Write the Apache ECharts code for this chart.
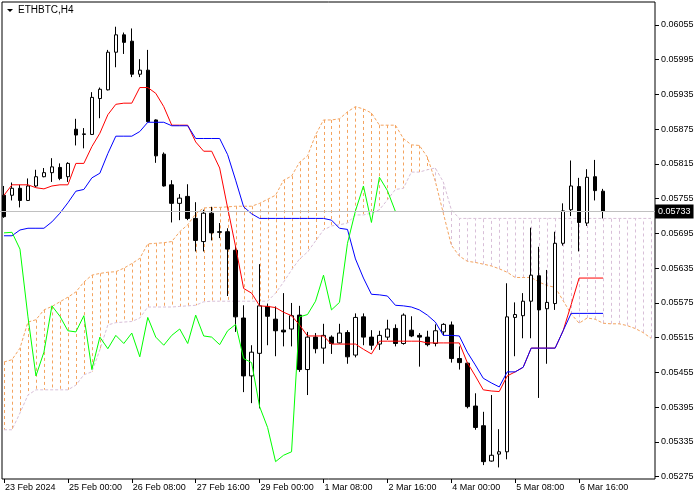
<!DOCTYPE html>
<html><head><meta charset="utf-8">
<script src="https://cdn.jsdelivr.net/npm/echarts@6/dist/echarts.min.js"></script>
<style>html,body{margin:0;padding:0;background:#fff}#c{width:700px;height:500px}</style>
</head><body><div id="c"></div>
<script>
const tickLabels = ["23 Feb 2024","25 Feb 00:00","26 Feb 08:00","27 Feb 16:00","29 Feb 00:00","1 Mar 08:00","2 Mar 16:00","4 Mar 00:00","5 Mar 08:00","6 Mar 16:00"];
const yTicks = [0.05275,0.05335,0.05395,0.05455,0.05515,0.05575,0.05635,0.05695,0.05755,0.05815,0.05875,0.05935,0.05995,0.06055];
const lastPrice = 0.05733;
// [open, close, low, high]
const candles = [
[0.05761,0.05724,0.05722,0.05777],[0.05761,0.05773,0.05752,0.05783],[0.05773,0.05752,0.05740,0.05779],[0.05752,0.05777,0.05751,0.05790],
[0.05777,0.05793,0.05775,0.05805],[0.05793,0.05800,0.05792,0.05808],[0.05800,0.05810,0.05784,0.05825],[0.05809,0.05790,0.05787,0.05816],
[0.05793,0.05816,0.05784,0.05818],[0.05875,0.05865,0.05847,0.05893],[0.05866,0.05867,0.05842,0.05877],[0.05866,0.05930,0.05865,0.05939],
[0.05928,0.05944,0.05894,0.05947],[0.05943,0.06008,0.05942,0.06012],[0.06008,0.06038,0.05982,0.06052],[0.06038,0.06025,0.06005,0.06042],
[0.06027,0.05970,0.05965,0.06049],[0.05970,0.05977,0.05965,0.05996],[0.05977,0.05888,0.05887,0.06012],[0.05891,0.05829,0.05817,0.05892],
[0.05832,0.05777,0.05776,0.05835],[0.05779,0.05747,0.05714,0.05787],[0.05747,0.05756,0.05718,0.05763],[0.05759,0.05721,0.05718,0.05780],
[0.05721,0.05683,0.05664,0.05749],[0.05681,0.05730,0.05664,0.05736],[0.05730,0.05696,0.05683,0.05741],[0.05698,0.05697,0.05687,0.05713],
[0.05698,0.05668,0.05587,0.05704],[0.05666,0.05551,0.05525,0.05673],[0.05549,0.05449,0.05421,0.05571],[0.05449,0.05490,0.05402,0.05502],
[0.05488,0.05570,0.05393,0.05642],[0.05569,0.05552,0.05502,0.05574],[0.05547,0.05527,0.05483,0.05569],[0.05528,0.05525,0.05500,0.05592],
[0.05530,0.05553,0.05500,0.05575],[0.05554,0.05460,0.05456,0.05570],[0.05460,0.05516,0.05416,0.05525],[0.05516,0.05496,0.05488,0.05523],
[0.05497,0.05519,0.05470,0.05539],[0.05516,0.05505,0.05487,0.05519],[0.05506,0.05523,0.05505,0.05539],[0.05524,0.05482,0.05470,0.05528],
[0.05485,0.05550,0.05481,0.05557],[0.05551,0.05516,0.05502,0.05557],[0.05516,0.05502,0.05494,0.05528],[0.05504,0.05519,0.05494,0.05527],
[0.05516,0.05530,0.05511,0.05546],[0.05531,0.05505,0.05500,0.05538],[0.05505,0.05554,0.05503,0.05557],[0.05528,0.05518,0.05516,0.05552],
[0.05519,0.05516,0.05465,0.05523],[0.05516,0.05503,0.05500,0.05527],[0.05505,0.05527,0.05500,0.05538],[0.05525,0.05538,0.05519,0.05540],
[0.05537,0.05479,0.05472,0.05543],[0.05479,0.05472,0.05460,0.05500],[0.05471,0.05396,0.05393,0.05472],[0.05397,0.05360,0.05356,0.05419],
[0.05363,0.05301,0.05295,0.05387],[0.05302,0.05312,0.05301,0.05416],[0.05314,0.05318,0.05291,0.05357],[0.05318,0.05551,0.05305,0.05609],
[0.05550,0.05555,0.05483,0.05576],[0.05553,0.05578,0.05514,0.05592],[0.05578,0.05623,0.05514,0.05705],[0.05622,0.05563,0.05411,0.05672],
[0.05565,0.05576,0.05470,0.05632],[0.05574,0.05678,0.05563,0.05698],[0.05678,0.05734,0.05674,0.05747],[0.05736,0.05777,0.05725,0.05821],
[0.05776,0.05714,0.05664,0.05791],[0.05713,0.05792,0.05708,0.05806],[0.05793,0.05769,0.05752,0.05822],[0.05768,0.05733,0.05721,0.05772]
];
const tenkan = [0.05761,0.05779,0.05779,0.05779,0.05774,0.05772,0.05777,0.05779,0.05779,0.05816,
0.05816,0.05845,0.05868,0.05900,0.05918,0.05920,0.05920,0.05947,0.05947,0.05937,
0.05914,0.05882,0.05882,0.05882,0.05853,0.05837,0.05837,0.05808,0.05739,0.05672,
0.05600,0.05592,0.05570,0.05569,0.05567,0.05559,0.05553,0.05537,0.05518,0.05518,
0.05518,0.05504,0.05504,0.05504,0.05504,0.05495,0.05487,0.05509,0.05509,0.05509,
0.05509,0.05509,0.05509,0.05506,0.05506,0.05506,0.05506,0.05506,0.05472,0.05449,
0.05425,0.05423,0.05422,0.05449,0.05456,0.05464,0.05497,0.05497,0.05497,0.05497,
0.05527,0.05572,0.05618,0.05618,0.05618,0.05618];
const kijun = [0.05691,0.05691,0.05701,0.05704,0.05704,0.05704,0.05715,0.05730,0.05748,0.05768,
0.05771,0.05791,0.05799,0.05833,0.05863,0.05863,0.05863,0.05871,0.05887,0.05887,
0.05887,0.05881,0.05881,0.05881,0.05859,0.05859,0.05859,0.05859,0.05831,0.05787,
0.05741,0.05729,0.05721,0.05721,0.05721,0.05721,0.05721,0.05721,0.05721,0.05721,
0.05721,0.05718,0.05704,0.05702,0.05651,0.05618,0.05590,0.05589,0.05587,0.05571,
0.05570,0.05568,0.05563,0.05554,0.05542,0.05519,0.05519,0.05518,0.05490,0.05468,
0.05445,0.05437,0.05430,0.05456,0.05456,0.05464,0.05497,0.05497,0.05497,0.05497,
0.05527,0.05557,0.05557,0.05557,0.05557,0.05557];
const senkouA = [0.05473,0.05477,0.05497,0.05542,0.05546,0.05563,0.05569,0.05577,0.05585,0.05594,
0.05611,0.05623,0.05626,0.05628,0.05629,0.05635,0.05643,0.05652,0.05677,0.05678,
0.05679,0.05681,0.05698,0.05710,0.05729,0.05739,0.05740,0.05740,0.05741,0.05742,
0.05742,0.05742,0.05747,0.05754,0.05761,0.05787,0.05794,0.05818,0.05829,0.05865,
0.05891,0.05891,0.05893,0.05905,0.05914,0.05910,0.05903,0.05882,0.05882,0.05882,
0.05859,0.05848,0.05847,0.05827,0.05785,0.05730,0.05675,0.05656,0.05647,0.05645,
0.05642,0.05639,0.05634,0.05628,0.05619,0.05619,0.05619,0.05611,0.05605,0.05602,
0.05579,0.05556,0.05540,0.05549,0.05547,0.05540,0.05539,0.05539,0.05536,0.05531,
0.05524,0.05514];
const senkouB = [0.05356,0.05356,0.05385,0.05416,0.05425,0.05425,0.05425,0.05425,0.05425,0.05433,
0.05451,0.05456,0.05494,0.05537,0.05541,0.05542,0.05543,0.05549,0.05568,0.05568,
0.05568,0.05568,0.05569,0.05570,0.05571,0.05577,0.05578,0.05578,0.05578,0.05578,
0.05578,0.05578,0.05578,0.05578,0.05592,0.05611,0.05632,0.05651,0.05663,0.05682,
0.05701,0.05708,0.05710,0.05713,0.05727,0.05727,0.05730,0.05736,0.05753,0.05771,
0.05773,0.05801,0.05801,0.05805,0.05808,0.05784,0.05736,0.05721,0.05721,0.05721,
0.05721,0.05721,0.05721,0.05721,0.05721,0.05721,0.05721,0.05721,0.05721,0.05721,
0.05721,0.05721,0.05721,0.05721,0.05721,0.05721,0.05721,0.05721,0.05721,0.05721,
0.05721,0.05721];
const chikou = [0.05696,0.05697,0.05668,0.05551,0.05449,0.05490,0.05570,0.05552,0.05527,0.05525,
0.05553,0.05460,0.05516,0.05496,0.05519,0.05505,0.05523,0.05482,0.05550,0.05516,
0.05502,0.05519,0.05530,0.05505,0.05554,0.05518,0.05516,0.05503,0.05527,0.05538,
0.05479,0.05472,0.05396,0.05360,0.05301,0.05312,0.05318,0.05551,0.05555,0.05578,
0.05623,0.05563,0.05576,0.05678,0.05734,0.05777,0.05714,0.05792,0.05769,0.05733];

const N = senkouA.length;
const cats = Array.from({length: N}, (_, i) => String(i));
const cloud = senkouA.map((a, i) => [i, a, senkouB[i]]);
const FONT = '"Liberation Sans", Arial, sans-serif';
const showTick = (i) => i % 8 === 0 && i / 8 < tickLabels.length;

const chart = echarts.init(document.getElementById('c'));
const lineBase = {type: 'line', showSymbol: false, symbol: 'none', silent: true, xAxisIndex: 0, yAxisIndex: 0, emphasis: {disabled: true}};
chart.setOption({
  animation: false,
  backgroundColor: '#fff',
  title: {text: 'ETHBTC,H4', left: 18, top: 5, padding: 0, textStyle: {fontSize: 10, fontWeight: 'normal', color: '#000', fontFamily: FONT}},
  graphic: [{type: 'polygon', shape: {points: [[7, 9], [13, 9], [10, 12]]}, style: {fill: '#000'}}],
  grid: [
    {left: -1, right: 45, top: 2, bottom: 21},
    {left: 2, right: 45, top: 2, bottom: 21, show: true, borderColor: '#000', borderWidth: 1, backgroundColor: 'transparent'}
  ],
  xAxis: [
    {type: 'category', data: cats, gridIndex: 0, boundaryGap: true,
     axisLine: {show: false},
     axisTick: {show: true, alignWithLabel: true, interval: showTick, length: 4, lineStyle: {color: '#000'}},
     axisLabel: {interval: showTick, align: 'left', margin: 4, fontSize: 9, fontFamily: FONT, color: '#000', padding: [0, 0, 0, 1],
       formatter: (v) => { const i = Number(v); return showTick(i) ? tickLabels[i / 8] : ''; }},
     splitLine: {show: false}},
    {type: 'value', gridIndex: 1, show: false}
  ],
  yAxis: [
    {type: 'value', gridIndex: 0, position: 'right', min: 0.05271, max: 0.060947,
     axisLine: {show: false},
     axisTick: {show: true, customValues: yTicks, length: 4, lineStyle: {color: '#000'}},
     axisLabel: {customValues: yTicks, formatter: (v) => v.toFixed(5), fontSize: 9, fontFamily: FONT, color: '#000', margin: 6},
     splitLine: {show: false}},
    {type: 'value', gridIndex: 1, show: false}
  ],
  series: [
    Object.assign({}, lineBase, {name: 'Price', data: [], z: 1,
     markLine: {silent: true, symbol: ['none', 'none'], animation: false, precision: 5,
       data: [{yAxis: lastPrice}],
       lineStyle: {color: '#C0C0C0', width: 1, type: 'solid'},
       label: {show: true, position: 'end', distance: 0, formatter: lastPrice.toFixed(5), backgroundColor: '#000', color: '#fff',
         fontSize: 9, fontFamily: FONT, padding: [3, 3, 2, 3]}}}),
    {type: 'custom', name: 'cloud', xAxisIndex: 0, yAxisIndex: 0, data: cloud, z: 1, silent: true, clip: true,
     renderItem: (params, api) => {
       const i = api.value(0), a = api.value(1), b = api.value(2);
       const p1 = api.coord([i, a]), p2 = api.coord([i, b]);
       const x = Math.round(p1[0]) + 0.5;
       return {type: 'line', shape: {x1: x, y1: p1[1], x2: x, y2: p2[1]},
         style: {stroke: a >= b ? '#F4A460' : '#D8BFD8', lineWidth: 1, lineDash: [3, 3]}};
     }},
    Object.assign({}, lineBase, {name: 'Senkou A', data: senkouA, z: 2, lineStyle: {color: '#F4A460', width: 1, type: [3, 2]}}),
    Object.assign({}, lineBase, {name: 'Senkou B', data: senkouB, z: 2, lineStyle: {color: '#D8BFD8', width: 1, type: [3, 2]}}),
    {type: 'candlestick', name: 'ETHBTC', xAxisIndex: 0, yAxisIndex: 0, data: candles, barWidth: 4, z: 3, silent: true,
     itemStyle: {color: '#fff', color0: '#000', borderColor: '#000', borderColor0: '#000', borderWidth: 1}},
    Object.assign({}, lineBase, {name: 'Tenkan', data: tenkan, z: 4, lineStyle: {color: '#FF0000', width: 1}}),
    Object.assign({}, lineBase, {name: 'Kijun', data: kijun, z: 4, lineStyle: {color: '#0000FF', width: 1}}),
    Object.assign({}, lineBase, {name: 'Chikou', data: chikou, z: 4, lineStyle: {color: '#00FF00', width: 1}})
  ]
});
</script></body></html>
